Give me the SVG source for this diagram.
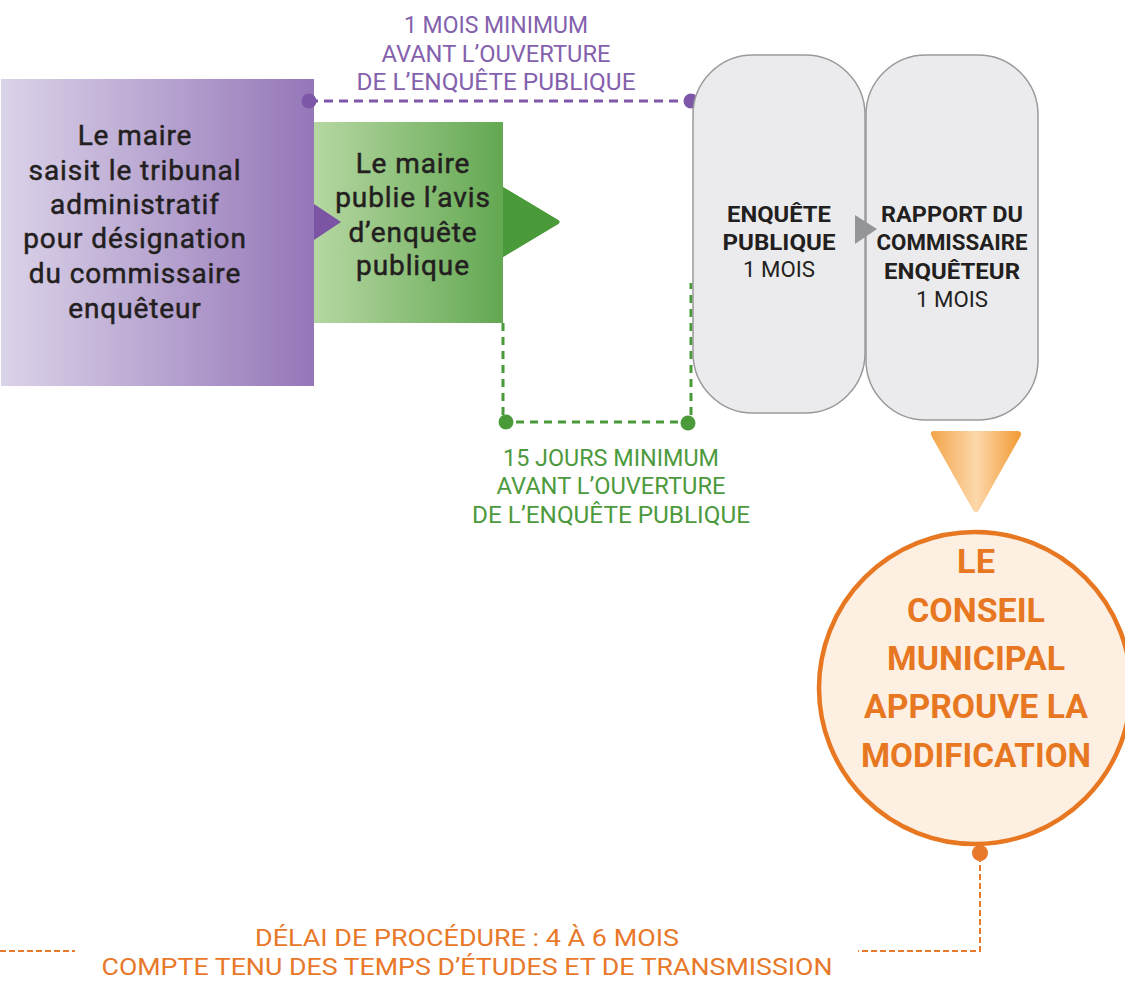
<svg xmlns="http://www.w3.org/2000/svg" width="1125" height="981" viewBox="0 0 1125 981">
  <defs>
    <linearGradient id="gPurple" x1="0" y1="0" x2="1" y2="0">
      <stop offset="0" stop-color="#dbd3e9"/>
      <stop offset="1" stop-color="#9577b8"/>
    </linearGradient>
    <linearGradient id="gGreen" x1="0" y1="0" x2="1" y2="0">
      <stop offset="0" stop-color="#b6d7a2"/>
      <stop offset="1" stop-color="#4a9a3a"/>
    </linearGradient>
    <linearGradient id="gOrange" x1="0" y1="0" x2="1" y2="0">
      <stop offset="0" stop-color="#f3a449"/>
      <stop offset="0.5" stop-color="#fcd8ab"/>
      <stop offset="1" stop-color="#f29a33"/>
    </linearGradient>
    <style>
      text { font-family: Roboto, "Liberation Sans", sans-serif; text-anchor: middle; }
      .dark { fill: #231f20; stroke: #231f20; stroke-width: 0.5px; font-size: 28px; letter-spacing: 0.9px; }
      .step { fill: #231f20; font-size: 22px; }
      .bold { font-weight: bold; }
      .purple { fill: #8461ad; font-size: 23px; }
      .green { fill: #4d9a3e; font-size: 23px; }
      .orange { fill: #e8782a; font-size: 23px; }
      .big { fill: #e87722; font-size: 33px; font-weight: bold; }
      .gray { fill: #ebebed; stroke: #9a9a9c; stroke-width: 1.5; }
    </style>
  </defs>

  <!-- connectors: dashed delay lines with end dots -->
  <g id="connectors">
    <line x1="309" y1="101" x2="691" y2="101" stroke="#7e57a8" stroke-width="3" stroke-dasharray="9 6"/>
    <polyline points="503,323 503,422 691,422 691,283" fill="none" stroke="#4a9a3a" stroke-width="3" stroke-dasharray="8 6"/>
    <polyline points="980,856 980,951 858,951" fill="none" stroke="#e8782a" stroke-width="2" stroke-dasharray="6 3"/>
    <line x1="0" y1="951" x2="75" y2="951" stroke="#e8782a" stroke-width="2" stroke-dasharray="6 3"/>
  </g>

  <!-- step 1: the mayor refers to the administrative court -->
  <g id="node-saisine">
    <rect x="1" y="79" width="313" height="307" fill="url(#gPurple)"/>
    <text class="dark" x="135" y="145">Le maire</text>
    <text class="dark" x="135" y="180">saisit le tribunal</text>
    <text class="dark" x="135" y="214">administratif</text>
    <text class="dark" x="135" y="248">pour désignation</text>
    <text class="dark" x="135" y="283">du commissaire</text>
    <text class="dark" x="135" y="318">enquêteur</text>
  </g>

  <!-- step 2: publication of the notice -->
  <g id="node-avis">
    <path d="M314,122 H503 V187 L558,220 Q561,222 558,224 L503,257 V323 H314 Z" fill="url(#gGreen)"/>
    <path d="M503,187 L558,220 Q561,222 558,224 L503,257 Z" fill="#4a9a3a"/>
    <path d="M314,204 L341,222 L314,240 Z" fill="#7b55a4"/>
    <text class="dark" x="413" y="173">Le maire</text>
    <text class="dark" x="413" y="207">publie l’avis</text>
    <text class="dark" x="413" y="242">d’enquête</text>
    <text class="dark" x="413" y="275">publique</text>
  </g>

  <!-- one-month notice label -->
  <g id="label-1mois">
    <circle cx="309" cy="101" r="7.5" fill="#7e57a8"/>
    <circle cx="691" cy="101" r="7.5" fill="#7e57a8"/>
    <text class="purple" x="496" y="33" textLength="184" lengthAdjust="spacingAndGlyphs">1 MOIS MINIMUM</text>
    <text class="purple" x="496" y="62" textLength="229" lengthAdjust="spacingAndGlyphs">AVANT L’OUVERTURE</text>
    <text class="purple" x="496" y="90" textLength="279" lengthAdjust="spacingAndGlyphs">DE L’ENQUÊTE PUBLIQUE</text>
  </g>

  <!-- step 3: public inquiry -->
  <g id="node-enquete">
    <rect class="gray" x="693" y="55" width="172" height="358" rx="60" ry="60"/>
    <text class="step bold" x="779" y="222" textLength="104" lengthAdjust="spacingAndGlyphs">ENQUÊTE</text>
    <text class="step bold" x="779" y="250" textLength="113" lengthAdjust="spacingAndGlyphs">PUBLIQUE</text>
    <text class="step" x="779" y="277" textLength="72" lengthAdjust="spacingAndGlyphs">1 MOIS</text>
  </g>

  <!-- step 4: investigator report -->
  <g id="node-rapport">
    <rect class="gray" x="866" y="55" width="172" height="365" rx="60" ry="60"/>
    <path d="M855,215 L877,229 L855,244 Z" fill="#939598"/>
    <text class="step bold" x="952" y="222" textLength="142" lengthAdjust="spacingAndGlyphs">RAPPORT DU</text>
    <text class="step bold" x="952" y="250" textLength="151" lengthAdjust="spacingAndGlyphs">COMMISSAIRE</text>
    <text class="step bold" x="952" y="279" textLength="136" lengthAdjust="spacingAndGlyphs">ENQUÊTEUR</text>
    <text class="step" x="952" y="307" textLength="72" lengthAdjust="spacingAndGlyphs">1 MOIS</text>
  </g>

  <!-- fifteen-day notice label -->
  <g id="label-15jours">
    <circle cx="506" cy="422" r="7.5" fill="#4a9a3a"/>
    <circle cx="688" cy="423" r="7.5" fill="#4a9a3a"/>
    <text class="green" x="611" y="466" textLength="216" lengthAdjust="spacingAndGlyphs">15 JOURS MINIMUM</text>
    <text class="green" x="611" y="494" textLength="229" lengthAdjust="spacingAndGlyphs">AVANT L’OUVERTURE</text>
    <text class="green" x="611" y="523" textLength="278" lengthAdjust="spacingAndGlyphs">DE L’ENQUÊTE PUBLIQUE</text>
  </g>

  <!-- orange downward arrow -->
  <g id="arrow-down">
    <path d="M934,431 H1017 Q1023,431 1020,437 L979,510 Q976,515 973,510 L932,437 Q929,431 934,431 Z" fill="url(#gOrange)"/>
  </g>

  <!-- step 5: council approval -->
  <g id="node-approbation">
    <circle cx="975" cy="688" r="156" fill="#fdf0e3" stroke="#e87722" stroke-width="4.5"/>
    <text class="big" x="976" y="573" textLength="38" lengthAdjust="spacingAndGlyphs">LE</text>
    <text class="big" x="976" y="622" textLength="138" lengthAdjust="spacingAndGlyphs">CONSEIL</text>
    <text class="big" x="976" y="670" textLength="178" lengthAdjust="spacingAndGlyphs">MUNICIPAL</text>
    <text class="big" x="976" y="718" textLength="224" lengthAdjust="spacingAndGlyphs">APPROUVE LA</text>
    <text class="big" x="976" y="767" textLength="230" lengthAdjust="spacingAndGlyphs">MODIFICATION</text>
    <circle cx="980" cy="853" r="8" fill="#e8782a"/>
  </g>

  <!-- overall duration label -->
  <g id="label-delai">
    <text class="orange" x="467" y="946" textLength="424" lengthAdjust="spacingAndGlyphs">DÉLAI DE PROCÉDURE : 4 À 6 MOIS</text>
    <text class="orange" x="467" y="975" textLength="731" lengthAdjust="spacingAndGlyphs">COMPTE TENU DES TEMPS D’ÉTUDES ET DE TRANSMISSION</text>
  </g>
</svg>
